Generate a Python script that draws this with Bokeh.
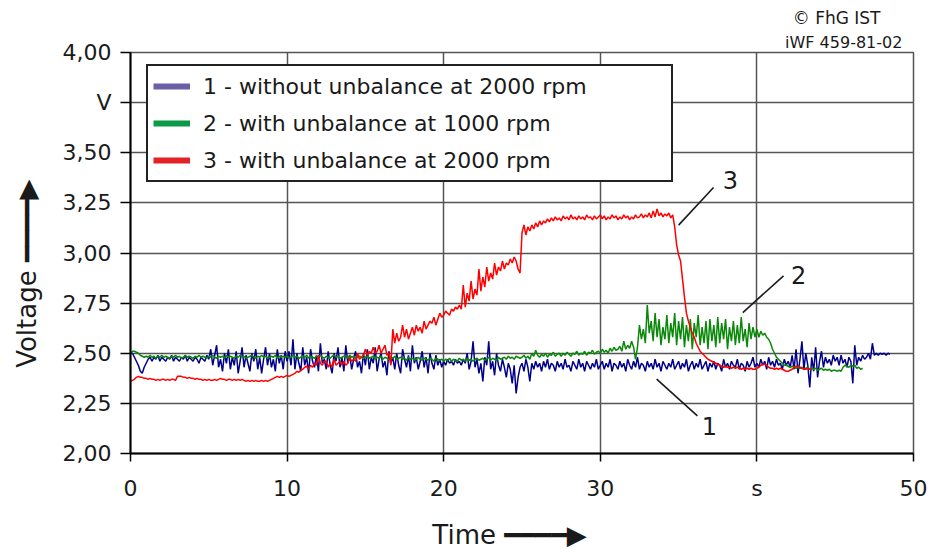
import numpy as np
from bokeh.plotting import figure
from bokeh.models import Range1d, FixedTicker, Legend, LegendItem, Label, Title
from bokeh.embed import file_html
from bokeh.resources import INLINE

# sampling step of the read-off traces (s)
dt = 0.125

# 1 - without unbalance at 2000 rpm (V), t = 0 ... 48.5 s
blue_v = [
    2.50, 2.50, 2.48, 2.46, 2.44, 2.41, 2.40, 2.43, 2.45, 2.47, 2.48, 2.46, 2.48, 2.47, 2.49, 2.46, 2.48, 2.47, 2.46, 2.48,
    2.47, 2.49, 2.46, 2.48, 2.47, 2.46, 2.48, 2.47, 2.49, 2.46, 2.48, 2.47, 2.46, 2.48, 2.47, 2.45, 2.48, 2.47, 2.46, 2.49,
    2.47, 2.52, 2.44, 2.49, 2.54, 2.43, 2.47, 2.41, 2.50, 2.45, 2.52, 2.42, 2.48, 2.44, 2.51, 2.40, 2.46, 2.53, 2.43, 2.49,
    2.45, 2.41, 2.50, 2.46, 2.52, 2.42, 2.48, 2.40, 2.47, 2.53, 2.44, 2.50, 2.43, 2.47, 2.41, 2.52, 2.45, 2.49, 2.42, 2.51,
    2.46, 2.51, 2.44, 2.57, 2.42, 2.50, 2.45, 2.41, 2.53, 2.44, 2.48, 2.40, 2.52, 2.46, 2.43, 2.49, 2.41, 2.55, 2.45, 2.47,
    2.42, 2.51, 2.44, 2.40, 2.50, 2.46, 2.53, 2.43, 2.48, 2.41, 2.54, 2.45, 2.49, 2.42, 2.47, 2.51, 2.43, 2.46, 2.40, 2.50,
    2.44, 2.52, 2.42, 2.48, 2.45, 2.53, 2.41, 2.47, 2.50, 2.43, 2.46, 2.39, 2.51, 2.45, 2.48, 2.42, 2.50, 2.44, 2.40, 2.52,
    2.47, 2.43, 2.49, 2.41, 2.54, 2.45, 2.48, 2.42, 2.46, 2.51, 2.43, 2.48, 2.40, 2.50, 2.45, 2.42, 2.49, 2.44, 2.47, 2.43,
    2.46, 2.44, 2.47, 2.45, 2.46, 2.44, 2.47, 2.45, 2.46, 2.44, 2.47, 2.45, 2.50, 2.42, 2.46, 2.56, 2.43, 2.47, 2.40, 2.45,
    2.36, 2.48, 2.44, 2.56, 2.42, 2.46, 2.39, 2.50, 2.44, 2.41, 2.47, 2.43, 2.38, 2.45, 2.42, 2.35, 2.44, 2.30, 2.38, 2.43,
    2.45, 2.41, 2.47, 2.43, 2.36, 2.45, 2.42, 2.46, 2.43, 2.45, 2.41, 2.46, 2.43, 2.47, 2.42, 2.45, 2.44, 2.41, 2.46, 2.43,
    2.45, 2.42, 2.47, 2.43, 2.44, 2.41, 2.46, 2.44, 2.42, 2.47, 2.43, 2.45, 2.41, 2.46, 2.44, 2.42, 2.45, 2.43, 2.47, 2.42,
    2.44, 2.46, 2.42, 2.45, 2.43, 2.47, 2.41, 2.45, 2.44, 2.42, 2.46, 2.43, 2.45, 2.41, 2.47, 2.44, 2.42, 2.46, 2.43, 2.48,
    2.42, 2.45, 2.44, 2.41, 2.46, 2.43, 2.45, 2.42, 2.47, 2.43, 2.45, 2.41, 2.46, 2.44, 2.42, 2.45, 2.43, 2.47, 2.42, 2.44,
    2.46, 2.42, 2.45, 2.43, 2.47, 2.41, 2.44, 2.46, 2.42, 2.45, 2.43, 2.47, 2.42, 2.44, 2.46, 2.41, 2.45, 2.43, 2.46, 2.42,
    2.45, 2.44, 2.41, 2.47, 2.43, 2.45, 2.42, 2.46, 2.44, 2.43, 2.47, 2.42, 2.45, 2.44, 2.41, 2.46, 2.43, 2.45, 2.48, 2.43,
    2.45, 2.43, 2.47, 2.44, 2.46, 2.42, 2.48, 2.44, 2.46, 2.43, 2.47, 2.44, 2.45, 2.42, 2.47, 2.44, 2.46, 2.43, 2.49, 2.42,
    2.52, 2.40, 2.47, 2.56, 2.42, 2.50, 2.44, 2.33, 2.48, 2.41, 2.53, 2.38, 2.46, 2.51, 2.43, 2.48, 2.45, 2.47, 2.44, 2.49,
    2.46, 2.48, 2.44, 2.49, 2.45, 2.47, 2.43, 2.48, 2.46, 2.35, 2.54, 2.44, 2.48, 2.46, 2.49, 2.47, 2.48, 2.50, 2.47, 2.55,
    2.49, 2.50, 2.49, 2.50, 2.495, 2.50, 2.49, 2.50, 2.495,
]

# 2 - with unbalance at 1000 rpm (V), t = 0 ... 46.75 s
green_v = [
    2.50, 2.51, 2.51, 2.505, 2.50, 2.49, 2.485, 2.48, 2.485, 2.48, 2.49, 2.48, 2.485, 2.475, 2.485, 2.48, 2.49, 2.48, 2.485, 2.48,
    2.475, 2.485, 2.48, 2.49, 2.48, 2.485, 2.475, 2.48, 2.49, 2.48, 2.485, 2.48, 2.475, 2.485, 2.48, 2.49, 2.48, 2.485, 2.48, 2.475,
    2.485, 2.48, 2.49, 2.48, 2.475, 2.485, 2.48, 2.485, 2.475, 2.49, 2.48, 2.485, 2.48, 2.475, 2.485, 2.48, 2.49, 2.48, 2.485, 2.475,
    2.48, 2.485, 2.49, 2.48, 2.475, 2.485, 2.48, 2.49, 2.48, 2.485, 2.475, 2.48, 2.485, 2.48, 2.49, 2.475, 2.485, 2.48, 2.485, 2.48,
    2.485, 2.475, 2.48, 2.49, 2.48, 2.485, 2.475, 2.48, 2.485, 2.48, 2.49, 2.475, 2.485, 2.48, 2.475, 2.485, 2.48, 2.49, 2.48, 2.475,
    2.485, 2.48, 2.475, 2.485, 2.49, 2.48, 2.485, 2.475, 2.48, 2.485, 2.48, 2.475, 2.49, 2.48, 2.485, 2.475, 2.48, 2.485, 2.48, 2.475,
    2.48, 2.485, 2.475, 2.48, 2.485, 2.47, 2.48, 2.475, 2.485, 2.47, 2.48, 2.475, 2.47, 2.48, 2.475, 2.485, 2.47, 2.475, 2.48, 2.47,
    2.475, 2.465, 2.48, 2.47, 2.475, 2.465, 2.47, 2.48, 2.47, 2.465, 2.475, 2.47, 2.465, 2.475, 2.47, 2.46, 2.475, 2.47, 2.465, 2.47,
    2.46, 2.47, 2.465, 2.475, 2.46, 2.47, 2.465, 2.46, 2.475, 2.465, 2.47, 2.46, 2.475, 2.465, 2.47, 2.46, 2.47, 2.475, 2.465, 2.47,
    2.475, 2.465, 2.47, 2.48, 2.465, 2.475, 2.47, 2.465, 2.48, 2.47, 2.475, 2.48, 2.47, 2.485, 2.475, 2.48, 2.47, 2.485, 2.48, 2.475,
    2.48, 2.49, 2.475, 2.485, 2.47, 2.50, 2.485, 2.515, 2.49, 2.48, 2.495, 2.485, 2.50, 2.48, 2.495, 2.49, 2.505, 2.485, 2.495, 2.50,
    2.485, 2.50, 2.49, 2.505, 2.495, 2.485, 2.50, 2.495, 2.51, 2.49, 2.50, 2.495, 2.51, 2.49, 2.505, 2.50, 2.515, 2.495, 2.505, 2.51,
    2.50, 2.52, 2.505, 2.515, 2.50, 2.525, 2.51, 2.53, 2.515, 2.52, 2.535, 2.51, 2.56, 2.52, 2.54, 2.525, 2.56, 2.53, 2.47, 2.53,
    2.64, 2.57, 2.62, 2.55, 2.74, 2.60, 2.66, 2.56, 2.70, 2.58, 2.67, 2.54, 2.63, 2.57, 2.69, 2.55, 2.65, 2.58, 2.70, 2.54,
    2.66, 2.57, 2.68, 2.53, 2.64, 2.56, 2.67, 2.52, 2.65, 2.58, 2.69, 2.54, 2.63, 2.55, 2.66, 2.52, 2.67, 2.56, 2.64, 2.53,
    2.68, 2.55, 2.65, 2.57, 2.67, 2.52, 2.63, 2.56, 2.66, 2.54, 2.64, 2.55, 2.68, 2.56, 2.62, 2.53, 2.65, 2.57, 2.63, 2.58,
    2.62, 2.58, 2.61, 2.59, 2.60, 2.58, 2.57, 2.55, 2.52, 2.50, 2.48, 2.47, 2.46, 2.45, 2.44, 2.44, 2.435, 2.43, 2.435, 2.43,
    2.425, 2.43, 2.425, 2.43, 2.42, 2.425, 2.43, 2.42, 2.425, 2.42, 2.425, 2.415, 2.42, 2.425, 2.415, 2.42, 2.415, 2.42, 2.41, 2.415,
    2.415, 2.41, 2.415, 2.41, 2.43, 2.44, 2.435, 2.43, 2.44, 2.435, 2.44, 2.425, 2.43, 2.42, 2.425,
]

# 3 - with unbalance at 2000 rpm (V), t = 0 ... 43.5 s
red_v = [
    2.36, 2.365, 2.37, 2.38, 2.385, 2.38, 2.38, 2.375, 2.375, 2.37, 2.375, 2.37, 2.37, 2.365, 2.37, 2.365, 2.37, 2.37, 2.365, 2.37,
    2.365, 2.37, 2.37, 2.365, 2.385, 2.385, 2.385, 2.38, 2.38, 2.375, 2.38, 2.375, 2.375, 2.37, 2.375, 2.37, 2.37, 2.365, 2.37, 2.365,
    2.37, 2.365, 2.365, 2.37, 2.365, 2.37, 2.375, 2.37, 2.37, 2.365, 2.37, 2.37, 2.365, 2.37, 2.365, 2.37, 2.365, 2.37, 2.365, 2.36,
    2.365, 2.36, 2.365, 2.36, 2.365, 2.36, 2.36, 2.365, 2.36, 2.365, 2.36, 2.365, 2.37, 2.375, 2.38, 2.385, 2.38, 2.385, 2.38, 2.385,
    2.39, 2.385, 2.39, 2.395, 2.40, 2.41, 2.405, 2.415, 2.42, 2.43, 2.435, 2.42, 2.44, 2.43, 2.45, 2.44, 2.49, 2.45, 2.44, 2.46,
    2.46, 2.43, 2.45, 2.43, 2.47, 2.44, 2.45, 2.46, 2.44, 2.46, 2.44, 2.45, 2.48, 2.46, 2.47, 2.46, 2.50, 2.47, 2.48, 2.49,
    2.52, 2.49, 2.51, 2.50, 2.53, 2.50, 2.51, 2.54, 2.50, 2.52, 2.54, 2.49, 2.50, 2.44, 2.62, 2.55, 2.60, 2.56, 2.58, 2.64,
    2.58, 2.62, 2.57, 2.60, 2.63, 2.59, 2.64, 2.61, 2.63, 2.60, 2.66, 2.62, 2.64, 2.66, 2.65, 2.68, 2.64, 2.67, 2.70, 2.68,
    2.69, 2.71, 2.70, 2.69, 2.72, 2.71, 2.73, 2.72, 2.74, 2.72, 2.84, 2.73, 2.80, 2.76, 2.86, 2.77, 2.82, 2.79, 2.92, 2.81,
    2.88, 2.83, 2.93, 2.86, 2.90, 2.87, 2.95, 2.89, 2.93, 2.91, 2.96, 2.92, 2.95, 2.94, 2.97, 2.95, 2.98, 2.96, 2.92, 2.90,
    3.10, 3.14, 3.09, 3.13, 3.11, 3.14, 3.12, 3.15, 3.13, 3.16, 3.14, 3.16, 3.15, 3.17, 3.155, 3.175, 3.16, 3.18, 3.165, 3.175,
    3.16, 3.185, 3.17, 3.18, 3.165, 3.19, 3.17, 3.18, 3.165, 3.185, 3.17, 3.18, 3.165, 3.19, 3.175, 3.18, 3.165, 3.185, 3.17, 3.18,
    3.19, 3.17, 3.185, 3.165, 3.18, 3.17, 3.19, 3.175, 3.185, 3.165, 3.18, 3.17, 3.19, 3.175, 3.185, 3.165, 3.18, 3.17, 3.19, 3.175,
    3.18, 3.195, 3.175, 3.19, 3.18, 3.20, 3.175, 3.21, 3.18, 3.22, 3.185, 3.20, 3.18, 3.195, 3.185, 3.20, 3.175, 3.19, 3.13, 3.04,
    2.99, 2.96, 2.87, 2.78, 2.70, 2.66, 2.63, 2.60, 2.58, 2.55, 2.53, 2.51, 2.50, 2.49, 2.48, 2.47, 2.465, 2.46, 2.455, 2.45,
    2.445, 2.44, 2.435, 2.43, 2.435, 2.43, 2.43, 2.425, 2.43, 2.425, 2.43, 2.425, 2.42, 2.425, 2.42, 2.425, 2.42, 2.425, 2.42, 2.42,
    2.425, 2.43, 2.44, 2.445, 2.445, 2.44, 2.43, 2.425, 2.425, 2.42, 2.425, 2.42, 2.425, 2.42, 2.415, 2.41, 2.41, 2.415, 2.42, 2.43,
    2.435, 2.435, 2.43, 2.425, 2.42, 2.42, 2.425, 2.42, 2.42,
]

x_ticks = [0, 10, 20, 30, 40, 50]
x_tick_labels = ["0", "10", "20", "30", "s", "50"]
y_ticks = [2.0, 2.25, 2.5, 2.75, 3.0, 3.25, 3.5, 3.75, 4.0]
y_tick_labels = ["2,00", "2,25", "2,50", "2,75", "3,00", "3,25", "3,50", "V", "4,00"]

legend_labels = ["1 - without unbalance at 2000 rpm",
                 "2 - with unbalance at 1000 rpm",
                 "3 - with unbalance at 2000 rpm"]

# curve callouts: number, leader start (t, V), leader end (t, V), text position (t, V)
callout_text = ["1", "2", "3"]
callout_x0 = [33.6, 39.1, 35.0]
callout_y0 = [2.371, 2.703, 3.139]
callout_x1 = [36.2, 41.7, 37.23]
callout_y1 = [2.188, 2.886, 3.327]
callout_tx = [36.97, 42.66, 38.3]
callout_ty = [2.139, 2.89, 3.366]

FONT = "DejaVu Sans"
TXT = "#1a1a1a"
GRID = "#555555"
ARROW = "\u2501\u2501\u2501\u2501\u25b6"
NBSP = "\u00a0"

t_blue = np.arange(len(blue_v)) * dt
t_green = np.arange(len(green_v)) * dt
t_red = np.arange(len(red_v)) * dt

p = figure(width=930, height=552, output_backend="svg", toolbar_location=None,
           x_range=Range1d(0, 50), y_range=Range1d(2, 4),
           min_border_left=130, min_border_right=17, min_border_top=52, min_border_bottom=96)
p.background_fill_color = "white"
p.border_fill_color = "white"
p.outline_line_color = GRID
p.outline_line_width = 1.5

p.xaxis.ticker = FixedTicker(ticks=x_ticks)
p.yaxis.ticker = FixedTicker(ticks=y_ticks)
p.xaxis.major_label_overrides = dict(zip(x_ticks, x_tick_labels))
p.yaxis.major_label_overrides = dict(zip(y_ticks, y_tick_labels))
for ax in (p.xaxis, p.yaxis):
    ax.axis_line_color = "black"
    ax.axis_line_width = 2
    ax.major_tick_line_color = "black"
    ax.major_tick_line_width = 1.5
    ax.major_tick_in = 0
    ax.minor_tick_line_color = None
    ax.major_label_text_font = FONT
    ax.major_label_text_font_size = "22px"
    ax.major_label_text_color = TXT
    ax.axis_label_text_font = FONT
    ax.axis_label_text_font_size = "26px"
    ax.axis_label_text_font_style = "normal"
    ax.axis_label_text_color = TXT
p.xaxis.major_tick_out = 8
p.xaxis.major_label_standoff = 14
p.yaxis.major_tick_out = 10
p.yaxis.major_label_standoff = 9
p.xaxis.axis_label = "Time " + ARROW + NBSP * 3
p.yaxis.axis_label = "Voltage " + ARROW + NBSP * 5
p.xaxis.axis_label_standoff = 16
p.yaxis.axis_label_standoff = 18

p.xgrid.ticker = FixedTicker(ticks=x_ticks)
p.ygrid.ticker = FixedTicker(ticks=y_ticks)
p.grid.grid_line_color = GRID
p.grid.grid_line_width = 1.5

r1 = p.line(t_blue, blue_v, line_color="#000088", line_width=1.5)
r2 = p.line(t_green, green_v, line_color="#0a880a", line_width=1.5)
r3 = p.line(t_red, red_v, line_color="#ff0000", line_width=1.5)

# hidden copies that only supply the thicker legend swatches
sw1 = p.line(t_blue, blue_v, line_color="#6a60a8", line_width=6, visible=False)
sw2 = p.line(t_green, green_v, line_color="#0c9a48", line_width=6, visible=False)
sw3 = p.line(t_red, red_v, line_color="#e32228", line_width=6, visible=False)
legend = Legend(items=[LegendItem(label=legend_labels[0], renderers=[sw1]),
                       LegendItem(label=legend_labels[1], renderers=[sw2]),
                       LegendItem(label=legend_labels[2], renderers=[sw3])],
                location=(16, 271), orientation="vertical",
                label_text_font=FONT, label_text_font_size="22px", label_text_color=TXT,
                glyph_width=37, glyph_height=30, label_height=30, label_width=463,
                label_standoff=13, spacing=7, padding=5, margin=0,
                border_line_color="#222222", border_line_width=2, border_line_alpha=1.0,
                background_fill_color="white", background_fill_alpha=1.0)
p.add_layout(legend)

# callouts
p.segment(x0=callout_x0, y0=callout_y0, x1=callout_x1, y1=callout_y1,
          line_color="#1a1a1a", line_width=1.6)
for txt, tx, ty in zip(callout_text, callout_tx, callout_ty):
    p.add_layout(Label(x=tx, y=ty, text=txt, text_font=FONT, text_font_size="24px",
                       text_color=TXT, text_align="center", text_baseline="middle"))

# copyright marks above the plot
p.add_layout(Title(text="iWF  459-81-02", align="right", offset=6, standoff=2,
                   text_font=FONT, text_font_size="16px", text_font_style="normal",
                   text_color=TXT), "above")
p.add_layout(Title(text="\u00a9 FhG IST", align="right", offset=33, standoff=4,
                   text_font=FONT, text_font_size="17px", text_font_style="normal",
                   text_color=TXT), "above")

open("out.html", "w").write(file_html(p, INLINE))
